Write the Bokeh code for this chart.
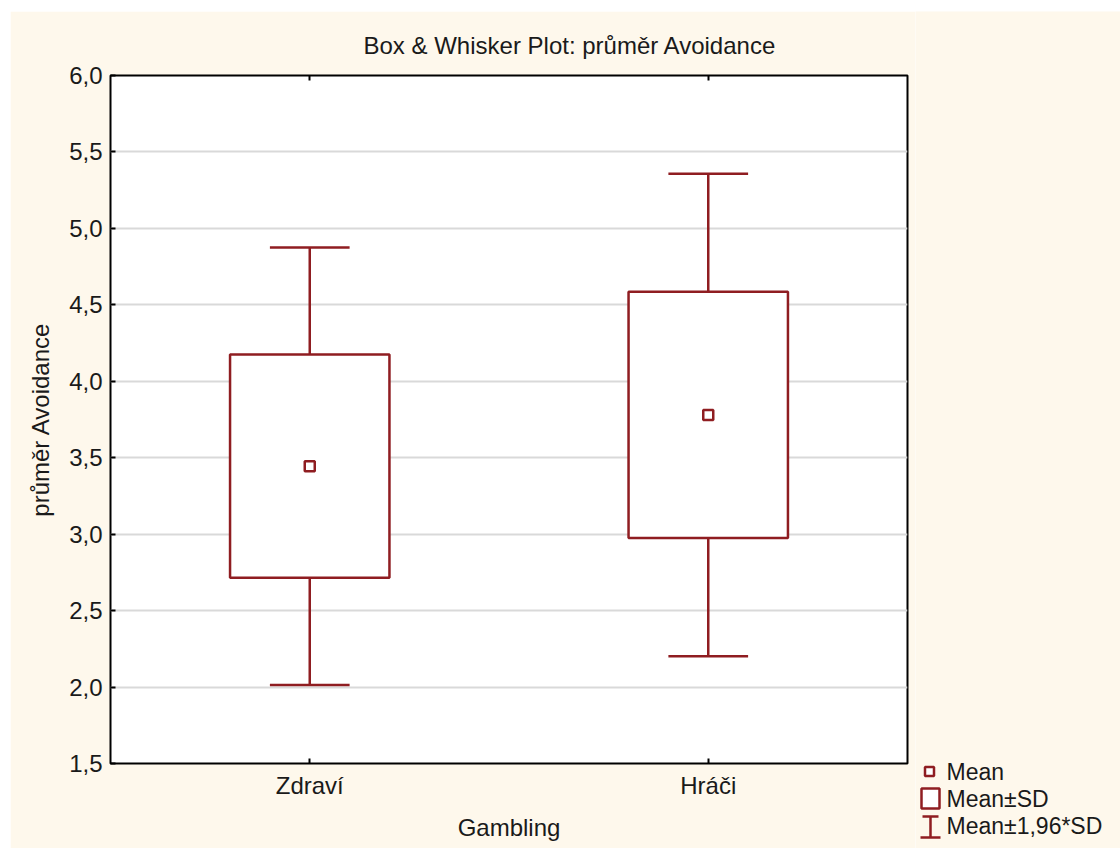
from bokeh.plotting import figure
from bokeh.models import (Range1d, FixedTicker, CustomJSTickFormatter, LinearAxis,
                          ColumnDataSource, Spacer, Title)
from bokeh.layouts import column, row
from bokeh.core.properties import value
from bokeh.embed import file_html
from bokeh.resources import INLINE

# Group statistics: mean and standard deviation of "průměr Avoidance"
groups = ["Zdraví", "Hráči"]
means = [3.445, 3.78]
sds = [0.73, 0.805]
z_factor = 1.96

y_ticks = [1.5, 2.0, 2.5, 3.0, 3.5, 4.0, 4.5, 5.0, 5.5, 6.0]
key_labels = ["Mean", "Mean±SD", "Mean±1,96*SD"]

DARK_RED = "#8f1d21"
CREAM = "#fef8ec"
FONT = "Liberation Sans"
TEXT = "#1a1a1a"

xs = [i + 1 for i in range(len(groups))]
src = ColumnDataSource(dict(
    x=xs,
    mean=means,
    lo=[m - s for m, s in zip(means, sds)],
    hi=[m + s for m, s in zip(means, sds)],
    wlo=[m - z_factor * s for m, s in zip(means, sds)],
    whi=[m + z_factor * s for m, s in zip(means, sds)],
    cl=[x - 0.1 for x in xs],
    cr=[x + 0.1 for x in xs],
    bl=[x - 0.2 for x in xs],
    br=[x + 0.2 for x in xs],
))

p = figure(width=905, height=837, output_backend="svg", toolbar_location=None,
           x_range=Range1d(0.5, 2.5), y_range=Range1d(1.5, 6.0),
           min_border_left=100, min_border_right=8, min_border_top=64, min_border_bottom=85,
           background_fill_color="white", border_fill_color=CREAM)

p.title = Title(text="Box & Whisker Plot: průměr Avoidance", align="left", offset=253,
                text_font=FONT, text_font_size="24px", text_font_style="normal",
                text_color=TEXT, standoff=33)

p.outline_line_color = "black"
p.outline_line_width = 2

# Axes
p.yaxis.ticker = FixedTicker(ticks=y_ticks)
p.yaxis.formatter = CustomJSTickFormatter(code="return tick.toFixed(1).replace('.', ',');")
p.xaxis.ticker = FixedTicker(ticks=xs)
p.xaxis.major_label_overrides = {x: g for x, g in zip(xs, groups)}
for ax in (p.xaxis[0], p.yaxis[0]):
    ax.axis_line_color = None
    ax.major_tick_in = 5
    ax.major_tick_out = 0
    ax.major_tick_line_color = "black"
    ax.major_tick_line_width = 2
    ax.minor_tick_line_color = None
    ax.major_label_text_font = FONT
    ax.major_label_text_font_size = "24px"
    ax.major_label_text_color = TEXT
    ax.axis_label_text_font = FONT
    ax.axis_label_text_font_size = "24px"
    ax.axis_label_text_font_style = "normal"
    ax.axis_label_text_color = TEXT
p.yaxis.axis_label = "průměr Avoidance"
p.xaxis.axis_label = "Gambling"
p.yaxis.major_label_standoff = 8
p.yaxis.axis_label_standoff = 12
p.xaxis.major_label_standoff = 8
p.xaxis.axis_label_standoff = 12

# Inward category ticks along the top edge of the frame
top = LinearAxis(ticker=FixedTicker(ticks=xs), major_label_overrides={x: "" for x in xs},
                 axis_line_color=None, major_tick_in=5, major_tick_out=0,
                 major_tick_line_width=2, minor_tick_line_color=None,
                 major_label_standoff=0)
p.add_layout(top, "above")

p.xgrid.grid_line_color = None
p.ygrid.grid_line_color = "#d9d9d9"
p.ygrid.grid_line_width = 2

# Whiskers (mean ± 1.96*SD)
p.segment(x0="x", y0="hi", x1="x", y1="whi", source=src, line_color=DARK_RED, line_width=2.5)
p.segment(x0="x", y0="wlo", x1="x", y1="lo", source=src, line_color=DARK_RED, line_width=2.5)
p.segment(x0="cl", y0="whi", x1="cr", y1="whi", source=src, line_color=DARK_RED, line_width=2.5)
p.segment(x0="cl", y0="wlo", x1="cr", y1="wlo", source=src, line_color=DARK_RED, line_width=2.5)
# Boxes (mean ± SD)
p.quad(left="bl", right="br", bottom="lo", top="hi", source=src,
       fill_color="white", line_color=DARK_RED, line_width=2.5)
# Means
p.scatter(x="x", y="mean", source=src, marker="square", size=10,
          fill_color="white", line_color=DARK_RED, line_width=2.5)

# Key panel on the right (page-pixel coordinates, y grows downward)
leg = figure(width=205, height=837, output_backend="svg", toolbar_location=None,
             x_range=Range1d(915, 1120), y_range=Range1d(848, 11),
             x_axis_location=None, y_axis_location=None,
             min_border=0, background_fill_color=CREAM, border_fill_color=CREAM)
leg.grid.visible = False
leg.outline_line_color = None

key_y = [771, 798, 825]
leg.scatter(x=[929], y=[key_y[0]], marker="square", size=9,
            fill_color="white", line_color=DARK_RED, line_width=2.5)
leg.quad(left=[921], right=[939], bottom=[key_y[1] + 10], top=[key_y[1] - 10],
         fill_color="white", line_color=DARK_RED, line_width=2.5)
leg.segment(x0=[930], y0=[key_y[2] - 9], x1=[930], y1=[key_y[2] + 12],
            line_color=DARK_RED, line_width=2.5)
leg.segment(x0=[922, 920], y0=[key_y[2] - 9, key_y[2] + 12], x1=[938, 940],
            y1=[key_y[2] - 9, key_y[2] + 12], line_color=DARK_RED, line_width=2.5)
leg.text(x=[946] * 3, y=key_y, text=key_labels, text_font=value(FONT),
         text_font_size="23px", text_color=TEXT, text_baseline="middle", text_align="left")

layout = column(Spacer(height=11), row(Spacer(width=10), p, column(leg)))

open("out.html", "w").write(file_html(layout, INLINE))
